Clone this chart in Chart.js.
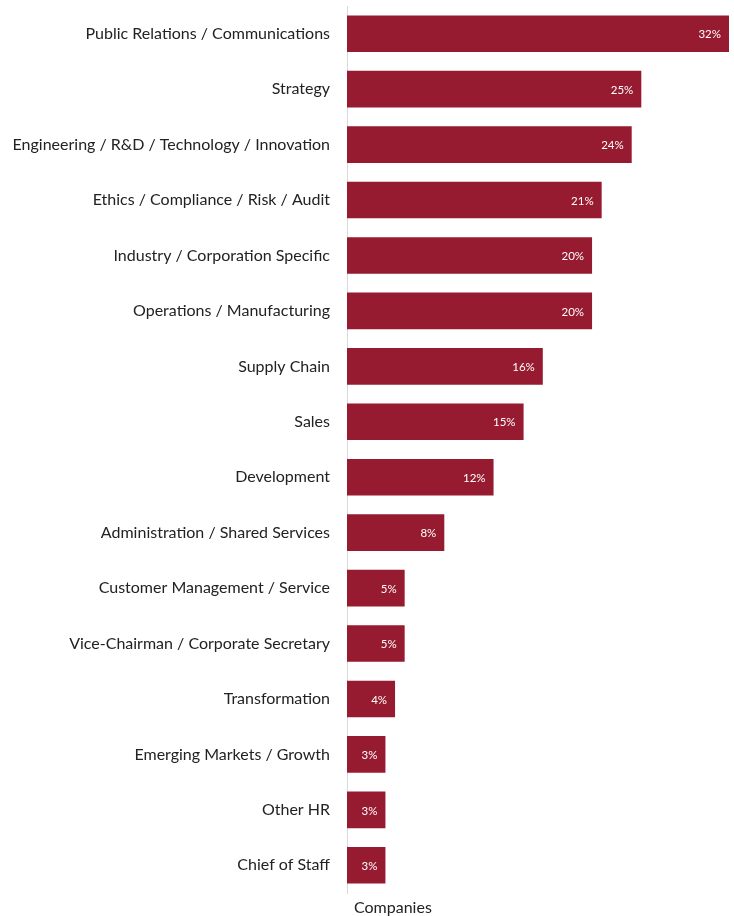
<!DOCTYPE html>
<html>
<head>
<meta charset="utf-8">
<script src="https://cdn.jsdelivr.net/npm/chart.js@4/dist/chart.umd.min.js"></script>
<style>
  html, body { margin: 0; padding: 0; background: #fff; }
  #wrap { width: 734px; height: 916px; position: relative; }
</style>
</head>
<body>
<div id="wrap"><canvas id="grafico"></canvas></div>
<script>
const categories = [
    'Public Relations / Communications',
    'Strategy',
    'Engineering / R&D / Technology / Innovation',
    'Ethics / Compliance / Risk / Audit',
    'Industry / Corporation Specific',
    'Operations / Manufacturing',
    'Supply Chain',
    'Sales',
    'Development',
    'Administration / Shared Services',
    'Customer Management / Service',
    'Vice-Chairman / Corporate Secretary',
    'Transformation',
    'Emerging Markets / Growth',
    'Other HR',
    'Chief of Staff'
];
// bar lengths (percent of companies)
const values = [31.8, 24.5, 23.7, 21.2, 20.4, 20.4, 16.3, 14.7, 12.2, 8.1, 4.8, 4.8, 4.0, 3.2, 3.2, 3.2];
// labels printed in the bars
const valueLabels = ['32%', '25%', '24%', '21%', '20%', '20%', '16%', '15%', '12%', '8%', '5%', '5%', '4%', '3%', '3%', '3%'];
const seriesName = 'Companies';

const FONT = 'Lato, "Open Sans", sans-serif';

// white labels at the end of each bar + the series name under the axis
const labelPlugin = {
    id: 'barLabels',
    afterDatasetsDraw(chart) {
        const ctx = chart.ctx;
        const meta = chart.getDatasetMeta(0);
        ctx.save();
        ctx.font = '11.5px ' + FONT;
        ctx.fillStyle = '#ffffff';
        ctx.textAlign = 'right';
        ctx.textBaseline = 'middle';
        meta.data.forEach((bar, i) => {
            ctx.fillText(valueLabels[i], bar.x - 8, bar.y + 1);
        });
        ctx.font = '16px ' + FONT;
        ctx.fillStyle = '#222222';
        ctx.textAlign = 'left';
        ctx.fillText(seriesName, chart.chartArea.left + 7, chart.chartArea.bottom + 15);
        ctx.restore();
    }
};

new Chart(document.getElementById('grafico').getContext('2d'), {
    type: 'bar',
    data: {
        labels: categories,
        datasets: [{
            label: seriesName,
            data: values,
            backgroundColor: '#961b30',
            borderWidth: 0,
            barPercentage: 0.66,
            categoryPercentage: 1.0
        }]
    },
    options: {
        indexAxis: 'y',
        responsive: true,
        maintainAspectRatio: false,
        animation: false,
        layout: { padding: { top: 6, right: 5, bottom: 23, left: 0 } },
        scales: {
            x: {
                display: false,
                min: 0,
                max: 31.8
            },
            y: {
                grid: { display: false, drawTicks: false },
                border: { display: true, color: '#d9d9d9', width: 1 },
                ticks: {
                    color: '#222222',
                    padding: 17,
                    font: { family: FONT, size: 16 }
                },
                afterFit: function(scale) {
                    scale.width = 347;
                    // tick padding would otherwise push the plot down
                    scale.paddingTop = 0;
                    scale.paddingBottom = 0;
                }
            }
        },
        plugins: {
            legend: { display: false },
            tooltip: { enabled: false }
        }
    },
    plugins: [labelPlugin]
});
</script>
</body>
</html>
